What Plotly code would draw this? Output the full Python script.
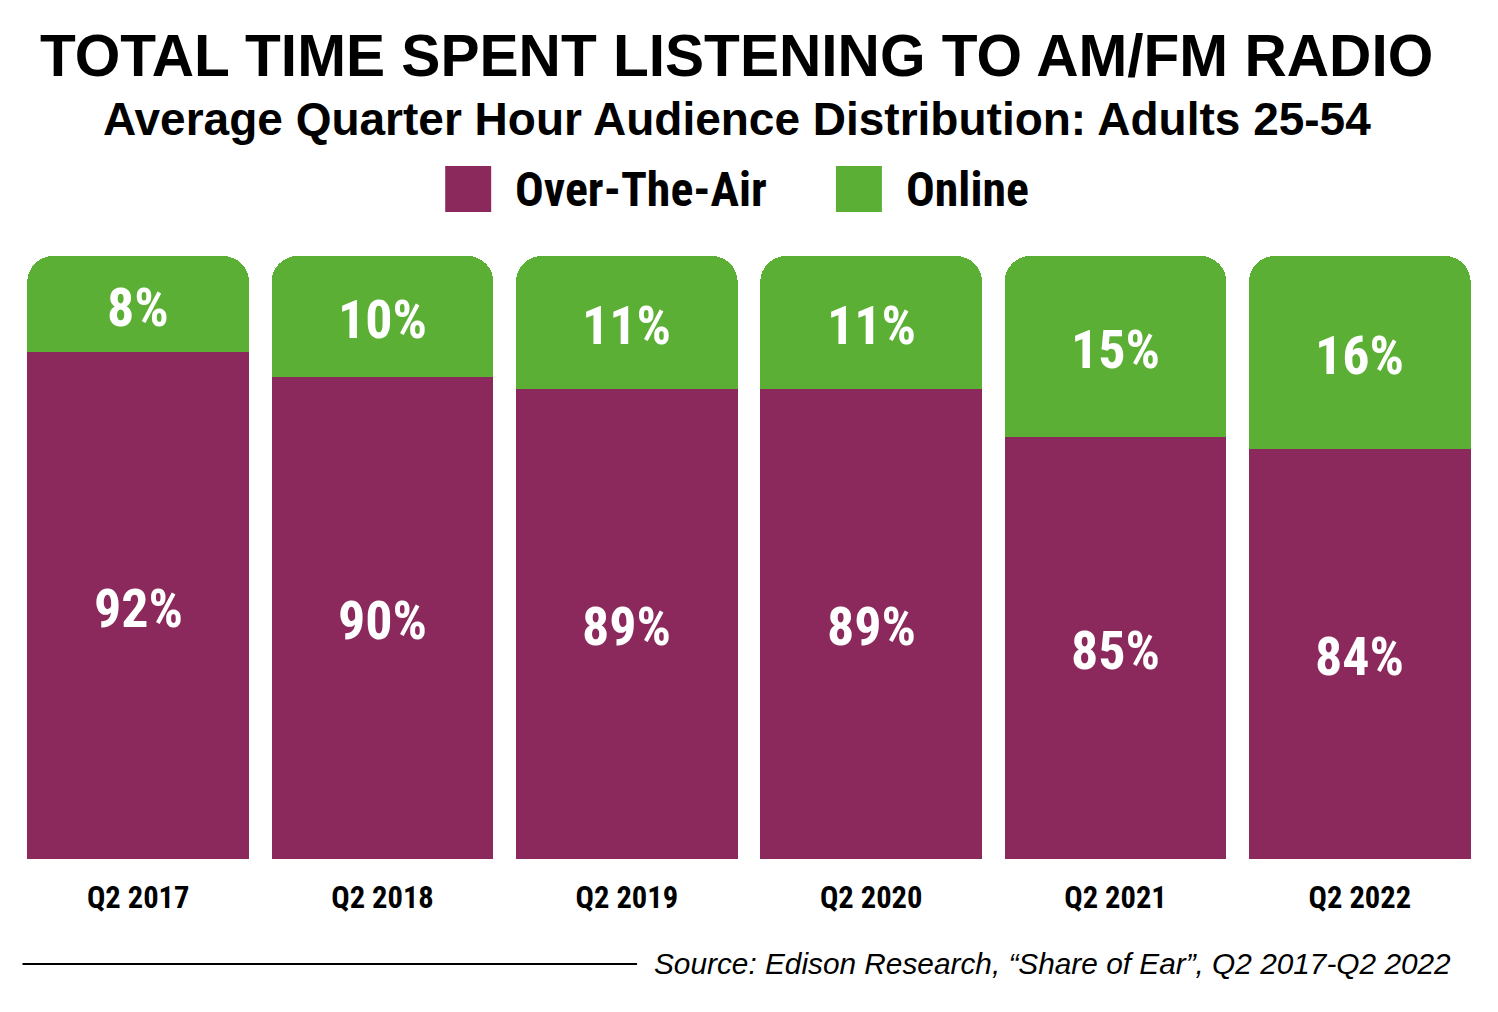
import plotly.graph_objects as go

categories = ["Q2 2017", "Q2 2018", "Q2 2019", "Q2 2020", "Q2 2021", "Q2 2022"]
over_the_air = [92, 90, 89, 89, 85, 84]
online = [8, 10, 11, 11, 15, 16]
series_names = ["Over-The-Air", "Online"]

PURPLE = "#8B285C"
GREEN = "#5AAF34"
OFF = 8  # page body margin
W, H = 1482, 996
# target pixel positions in the 1498x1012 screenshot
PLOT_L, PLOT_R, PLOT_T, PLOT_B = 15.5, 1482.5, 256, 859
ML = PLOT_L - OFF
MR = W - (PLOT_R - OFF)
MT = PLOT_T - OFF
MB = H - (PLOT_B - OFF)
Y_MIN, Y_MAX = 50, 100

def px_x(px):
    return (px - PLOT_L) / (PLOT_R - PLOT_L)

def px_y(py):
    return (PLOT_B - py) / (PLOT_B - PLOT_T)

COND = "Roboto Condensed, DejaVu Sans Condensed, Liberation Sans Narrow, Arial Narrow, Roboto"
SANS = "Liberation Sans, Arial, Helvetica"

fig = go.Figure()
fig.add_trace(go.Bar(x=categories, y=over_the_air, name=series_names[0],
                     marker=dict(color=PURPLE, line=dict(width=0)), hoverinfo="skip"))
fig.add_trace(go.Bar(x=categories, y=online, name=series_names[1],
                     marker=dict(color=GREEN, line=dict(width=0)), hoverinfo="skip"))

annotations = []
for c, a, o in zip(categories, over_the_air, online):
    annotations.append(dict(x=c, y=(Y_MIN + a) / 2, xref="x", yref="y", text=f"<b>{a}%</b>",
                            showarrow=False, font=dict(family=COND, size=54, color="white"),
                            yshift=-3))
    annotations.append(dict(x=c, y=a + o / 2, xref="x", yref="y", text=f"<b>{o}%</b>",
                            showarrow=False, font=dict(family=COND, size=54, color="white"),
                            yshift=-3))

# titles
annotations.append(dict(x=px_x(736), y=px_y(55), xref="paper", yref="paper",
                        text="<b>TOTAL TIME SPENT LISTENING TO AM/FM RADIO</b>",
                        showarrow=False, font=dict(family=SANS, size=58.6, color="black"),
                        xanchor="center", yanchor="middle"))
annotations.append(dict(x=px_x(737), y=px_y(119), xref="paper", yref="paper",
                        text="<b>Average Quarter Hour Audience Distribution: Adults 25-54</b>",
                        showarrow=False, font=dict(family=SANS, size=46, color="black"),
                        xanchor="center", yanchor="middle"))
# legend
shapes = []
legend_items = [(series_names[0], PURPLE, 445, 513), (series_names[1], GREEN, 836, 904)]
for name, col, sx, tx in legend_items:
    shapes.append(dict(type="rect", xref="paper", yref="paper",
                       x0=px_x(sx), x1=px_x(sx + 46), y0=px_y(212), y1=px_y(166),
                       fillcolor=col, line=dict(width=0)))
    annotations.append(dict(x=px_x(tx), y=px_y(190), xref="paper", yref="paper",
                            text=f"<b>{name}</b>", showarrow=False,
                            font=dict(family=COND, size=47.8, color="black"),
                            xanchor="left", yanchor="middle"))
# source
shapes.append(dict(type="line", xref="paper", yref="paper",
                   x0=px_x(22), x1=px_x(637), y0=px_y(964), y1=px_y(964),
                   line=dict(color="black", width=2)))
annotations.append(dict(x=px_x(1453), y=px_y(963), xref="paper", yref="paper",
                        text="<i>Source: Edison Research, \u201cShare of Ear\u201d, Q2 2017-Q2 2022</i>",
                        showarrow=False, font=dict(family=SANS, size=29.8, color="black"),
                        xanchor="right", yanchor="middle"))

fig.update_layout(
    width=W, height=H,
    margin=dict(l=ML, r=MR, t=MT, b=MB, pad=0),
    barmode="stack", bargap=22.5 / 244.5, barcornerradius=26,
    paper_bgcolor="white", plot_bgcolor="white",
    showlegend=False,
    annotations=annotations, shapes=shapes,
    xaxis=dict(showgrid=False, zeroline=False, showline=False, ticks="",
               tickfont=dict(family=COND, size=30.5, color="black"),
               ticklabelstandoff=17, fixedrange=True),
    yaxis=dict(range=[Y_MIN, Y_MAX], visible=False, showgrid=False, fixedrange=True),
)
fig.update_xaxes(tickvals=categories, ticktext=[f"<b>{c}</b>" for c in categories])

fig.write_html("out.html")
